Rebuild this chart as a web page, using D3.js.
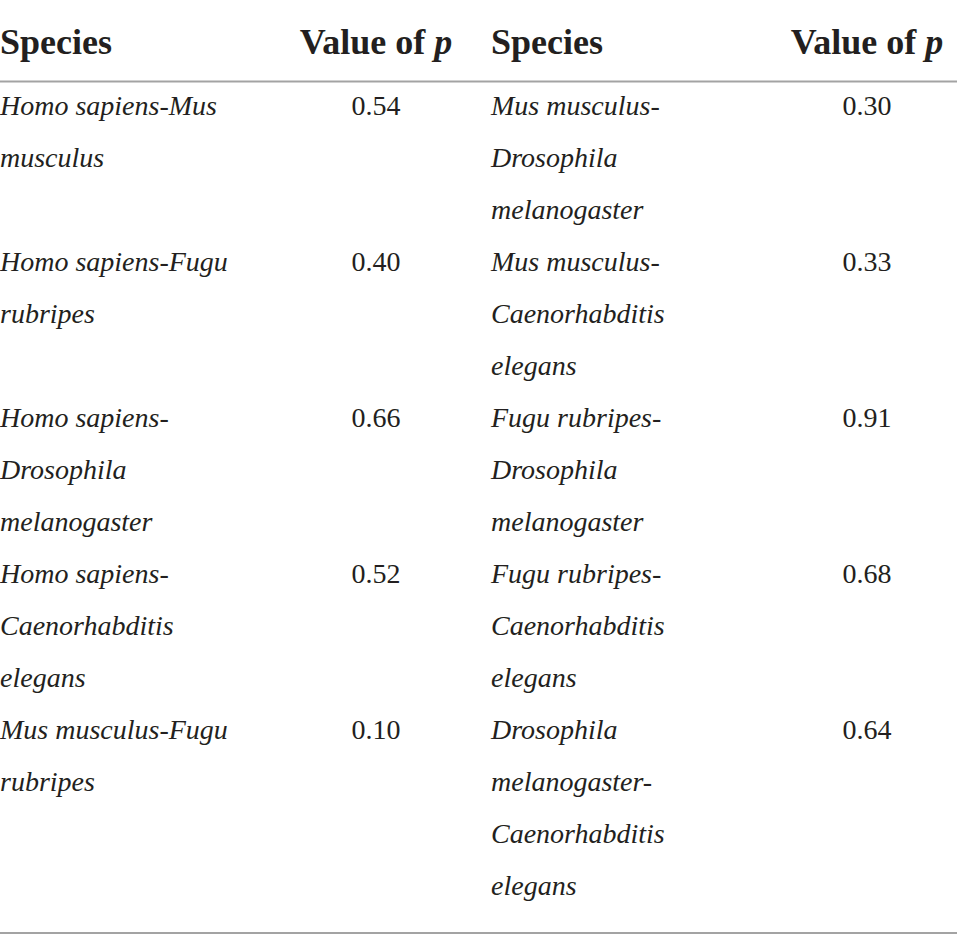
<!DOCTYPE html>
<html>
<head>
<meta charset="utf-8">
<script src="https://cdn.jsdelivr.net/npm/d3@7"></script>
<style>
  body { margin: 0; background: #fff; }
  svg text { font-family: "Liberation Serif", "Times New Roman", serif; fill: #231f20; }
</style>
</head>
<body>
<div id="chart"></div>
<script>
// table content
const headers = ["Species", "Value of "];
const leftSpecies = [
    "Homo sapiens-Mus musculus",
    "Homo sapiens-Fugu rubripes",
    "Homo sapiens-Drosophila melanogaster",
    "Homo sapiens-Caenorhabditis elegans",
    "Mus musculus-Fugu rubripes"
];
const leftValues = ["0.54", "0.40", "0.66", "0.52", "0.10"];
const rightSpecies = [
    "Mus musculus-Drosophila melanogaster",
    "Mus musculus-Caenorhabditis elegans",
    "Fugu rubripes-Drosophila melanogaster",
    "Fugu rubripes-Caenorhabditis elegans",
    "Drosophila melanogaster-Caenorhabditis elegans"
];
const rightValues = ["0.30", "0.33", "0.91", "0.68", "0.64"];

const width = 957, height = 952;
const lineHeight = 52;
const wrapWidth = 240;
const firstBaseline = 115;
const bodySize = 28;

const svg = d3.select("#chart").append("svg")
    .attr("width", width)
    .attr("height", height);

// column positions: species left edge, value centre
const cols = [
    {x: 0, vx: 376, species: leftSpecies, values: leftValues},
    {x: 491, vx: 867, species: rightSpecies, values: rightValues}
];

// split a name into lines that fit wrapWidth, breaking after spaces or hyphens
const measure = svg.append("text")
    .attr("font-size", bodySize)
    .attr("font-style", "italic")
    .attr("visibility", "hidden");

function wrap(name) {
    const parts = name.match(/[^\s-]+-?/g);
    const lines = [];
    let cur = "";
    parts.forEach(p => {
        const sep = cur === "" || cur.endsWith("-") ? "" : " ";
        const test = cur + sep + p;
        measure.text(test);
        if (cur !== "" && measure.node().getComputedTextLength() > wrapWidth) {
            lines.push(cur);
            cur = p;
        } else {
            cur = test;
        }
    });
    lines.push(cur);
    return lines;
}

cols.forEach(c => { c.lines = c.species.map(wrap); });
measure.remove();

// row starts from the number of lines in each row
const rowLines = leftSpecies.map((d, i) => d3.max(cols, c => c.lines[i].length));
const rowStart = [];
let acc = 0;
rowLines.forEach(n => { rowStart.push(acc); acc += n; });

const y = d3.scaleLinear()
    .domain([0, 1])
    .range([firstBaseline, firstBaseline + lineHeight]);

// rules
svg.append("line")
    .attr("x1", 0).attr("x2", width)
    .attr("y1", 81.5).attr("y2", 81.5)
    .attr("stroke", "#a3a3a3")
    .attr("stroke-width", 2);

svg.append("line")
    .attr("x1", 0).attr("x2", width)
    .attr("y1", y(acc - 1) + 38).attr("y2", y(acc - 1) + 38)
    .attr("stroke", "#a3a3a3")
    .attr("stroke-width", 2);

// headers
cols.forEach(c => {
    svg.append("text")
        .attr("x", c.x)
        .attr("y", 54)
        .attr("font-size", 36)
        .attr("font-weight", "bold")
        .text(headers[0]);

    const h = svg.append("text")
        .attr("x", c.vx)
        .attr("y", 54)
        .attr("font-size", 36)
        .attr("font-weight", "bold")
        .attr("text-anchor", "middle");
    h.append("tspan").text(headers[1]);
    h.append("tspan").attr("font-style", "italic").text("p");
});

// body
cols.forEach(c => {
    c.lines.forEach((lines, i) => {
        svg.append("g")
            .selectAll("text")
            .data(lines)
            .enter().append("text")
            .attr("x", c.x)
            .attr("y", (d, j) => y(rowStart[i] + j))
            .attr("font-size", bodySize)
            .attr("font-style", "italic")
            .text(d => d);
    });

    svg.selectAll(null)
        .data(c.values)
        .enter().append("text")
        .attr("x", c.vx)
        .attr("y", (d, i) => y(rowStart[i]))
        .attr("font-size", bodySize)
        .attr("text-anchor", "middle")
        .text(d => d);
});
</script>
</body>
</html>
